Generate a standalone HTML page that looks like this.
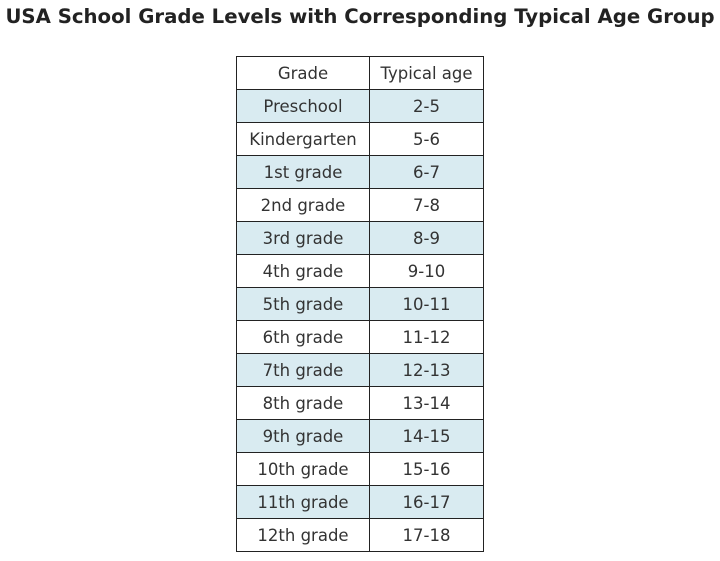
<!DOCTYPE html>
<html><head><style>
body{margin:0;width:720px;height:561px;background:#fff;font-family:"DejaVu Sans","Liberation Sans",sans-serif;position:relative;overflow:hidden}
h1{position:absolute;top:5px;left:0;width:720px;margin:0;text-align:center;font-size:19.7px;font-weight:bold;color:#222;white-space:nowrap}
table{position:absolute;left:236px;top:56px;border-collapse:collapse;font-size:16.5px;color:#333}
td{border:1.5px solid #222;height:31.5px;padding:0;text-align:center;box-sizing:border-box}
tr{height:33px}
td:first-child{width:133px}td:last-child{width:114px}
tr.b td{background:#d9ebf1}
</style></head><body>
<h1>USA School Grade Levels with Corresponding Typical Age Group</h1>
<table>
<tr><td>Grade</td><td>Typical age</td></tr>
<tr class="b"><td>Preschool</td><td>2-5</td></tr>
<tr><td>Kindergarten</td><td>5-6</td></tr>
<tr class="b"><td>1st grade</td><td>6-7</td></tr>
<tr><td>2nd grade</td><td>7-8</td></tr>
<tr class="b"><td>3rd grade</td><td>8-9</td></tr>
<tr><td>4th grade</td><td>9-10</td></tr>
<tr class="b"><td>5th grade</td><td>10-11</td></tr>
<tr><td>6th grade</td><td>11-12</td></tr>
<tr class="b"><td>7th grade</td><td>12-13</td></tr>
<tr><td>8th grade</td><td>13-14</td></tr>
<tr class="b"><td>9th grade</td><td>14-15</td></tr>
<tr><td>10th grade</td><td>15-16</td></tr>
<tr class="b"><td>11th grade</td><td>16-17</td></tr>
<tr><td>12th grade</td><td>17-18</td></tr>
</table>
</body></html>
